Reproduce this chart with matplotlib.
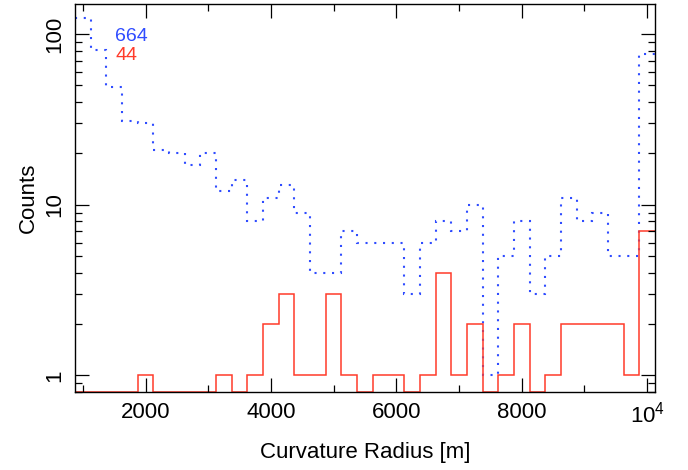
import numpy as np
import matplotlib
matplotlib.use("Agg")
import matplotlib.pyplot as plt
from matplotlib.ticker import FixedLocator, LogLocator, NullFormatter

plt.rcParams['font.family'] = ['Liberation Sans', 'DejaVu Sans']
plt.rcParams['mathtext.default'] = 'regular'

# Histogram bins: 250 m wide, centred on 1000 ... 10000 m
bin_edges = np.arange(875, 10126, 250)

# All curvature radii
counts_all = [125, 81, 49, 31, 30, 21, 20, 17, 20, 12, 14, 8, 11, 13, 9, 4, 4, 7, 6,
              6, 6, 3, 6, 8, 7, 10, 1, 5, 8, 3, 5, 11, 8, 9, 5, 5, 76]
# Selected subsample
counts_sel = [0, 0, 0, 0, 1, 0, 0, 0, 0, 1, 0, 1, 2, 3, 1, 1, 3, 1, 0,
              1, 1, 0, 1, 4, 1, 2, 0, 1, 2, 0, 1, 2, 2, 2, 2, 1, 7]

x_ticks = [2000, 4000, 6000, 8000, 10000]
x_tick_labels = ['2000', '4000', '6000', '8000', '$10^4$']
y_ticks = [1, 10, 100]
y_tick_labels = ['1', '10', '100']

blue = '#2f4cff'
red = '#ff3b2a'
y_lo, y_hi = 0.8, 150

fig = plt.figure(figsize=(6.88, 4.70), dpi=100)
ax = fig.add_axes([75 / 688, 78 / 470, 580 / 688, 388 / 470])
ax.set_yscale('log')

ax.stairs(counts_all, bin_edges, baseline=None, color=blue, linewidth=1.5,
          linestyle=(0, (1, 3.2)))
# empty bins sit on the lower frame edge
sel_drawn = np.where(np.asarray(counts_sel) > 0, counts_sel, y_lo)
ax.stairs(sel_drawn, bin_edges, baseline=None, color=red, linewidth=1.1)

ax.set_xlim(bin_edges[0], bin_edges[-1])
ax.set_ylim(y_lo, y_hi)

ax.xaxis.set_major_locator(FixedLocator(x_ticks))
ax.set_xticklabels(x_tick_labels)
ax.xaxis.set_minor_locator(FixedLocator([1000, 3000, 5000, 7000, 9000]))
ax.yaxis.set_major_locator(FixedLocator(y_ticks))
ax.set_yticklabels(y_tick_labels, rotation=90, va='center')
ax.yaxis.set_minor_locator(LogLocator(base=10, subs=np.arange(2, 10)))
ax.yaxis.set_minor_formatter(NullFormatter())

ax.tick_params(which='both', direction='in', top=True, right=True,
               labelsize=16, width=0.9, color='black')
ax.tick_params(which='major', length=10, pad=7)
ax.tick_params(which='minor', length=5)
for s in ax.spines.values():
    s.set_linewidth(1.0)

ax.set_xlabel('Curvature Radius [m]', fontsize=16, labelpad=10)
ax.set_ylabel('Counts', fontsize=16, labelpad=4)

ax.text(0.069, 0.905, str(sum(counts_all)), transform=ax.transAxes,
        color=blue, fontsize=14, va='baseline', ha='left')
ax.text(0.069, 0.856, str(sum(counts_sel)), transform=ax.transAxes,
        color=red, fontsize=14, va='baseline', ha='left')

fig.savefig('out.png', dpi=100)
